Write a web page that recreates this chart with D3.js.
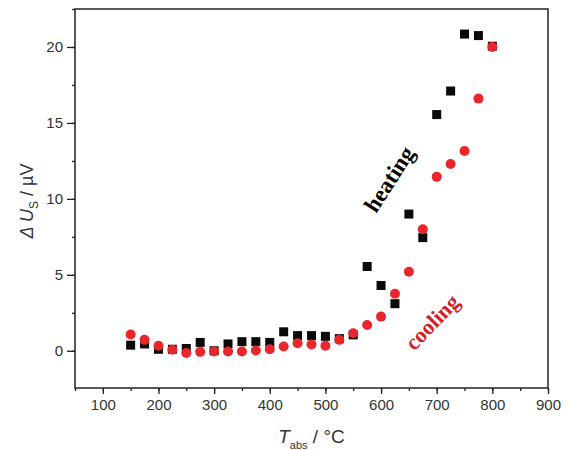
<!DOCTYPE html>
<html>
<head>
<meta charset="utf-8">
<script src="https://cdn.jsdelivr.net/npm/d3@7"></script>
<style>
  body { margin: 0; background: #fff; }
  svg { display: block; }
  .tick text { font-family: "Liberation Sans", Arial, sans-serif; }
</style>
</head>
<body>
<svg class="chart"></svg>
<script>
// DATA /////////////////////////////////////////
const temps = [150, 175, 200, 225, 250, 275, 300, 325, 350, 375, 400, 425, 450, 475,
  500, 525, 550, 575, 600, 625, 650, 675, 700, 725, 750, 775, 800];
const heating = [0.37, 0.45, 0.1, 0.1, 0.15, 0.55, 0.0, 0.45, 0.6, 0.6, 0.55, 1.25, 1.0, 1.0,
  0.95, 0.8, 1.05, 5.55, 4.3, 3.1, 9.0, 7.45, 15.55, 17.1, 20.85, 20.75, 20.05];
const cooling = [1.07, 0.72, 0.33, 0.07, -0.15, -0.07, -0.05, -0.05, -0.05, 0.02, 0.1, 0.28, 0.5, 0.42,
  0.33, 0.72, 1.15, 1.7, 2.25, 3.75, 5.2, 8.0, 11.45, 12.3, 13.15, 16.6, 20.0];
const xTicks = [100, 200, 300, 400, 500, 600, 700, 800, 900];
const yTicks = [0, 5, 10, 15, 20];

// DEFINITIONS /////////////////////////////////
const margin = { top: 9, right: 20, bottom: 62, left: 75 };
const width = 568 - margin.left - margin.right;
const height = 450 - margin.top - margin.bottom;
const ink = "#222";
const red = "#e8262b";

const svg = d3.select(".chart").attr("width", 568).attr("height", 450);
const chart = svg.append("g").attr("transform", `translate(${margin.left}, ${margin.top})`);

const x = d3.scaleLinear().domain([50, 900]).range([0, width]);
const y = d3.scaleLinear().domain([-2.45, 22.5]).range([height, 0]);

// AXES ////////////////////////////////////////
const styleAxis = (g) => {
  g.select(".domain").remove();
  g.selectAll("line").attr("stroke", ink).attr("stroke-width", 1.3);
  g.selectAll("text").attr("fill", "#333").attr("font-size", 15);
};

// minor ticks first
chart.append("g")
  .attr("transform", `translate(0, ${height})`)
  .call(d3.axisBottom(x).tickValues(d3.range(50, 901, 50)).tickSize(3).tickFormat(""))
  .call(styleAxis);
chart.append("g")
  .call(d3.axisLeft(y).tickValues(d3.range(-2.5, 22.6, 2.5).filter((v) => v >= -2.45)).tickSize(3).tickFormat(""))
  .call(styleAxis);

chart.append("g")
  .attr("transform", `translate(0, ${height})`)
  .call(d3.axisBottom(x).tickValues(xTicks).tickSize(6).tickPadding(5))
  .call(styleAxis);
chart.append("g")
  .call(d3.axisLeft(y).tickValues(yTicks).tickSize(8).tickPadding(4))
  .call(styleAxis);

// frame
chart.append("rect")
  .attr("width", width)
  .attr("height", height)
  .attr("fill", "none")
  .attr("stroke", ink)
  .attr("stroke-width", 1.5);

// MARKS ///////////////////////////////////////
const sq = 9;
chart.selectAll(".heat")
  .data(temps.map((t, i) => ({ t, v: heating[i] })))
  .enter()
  .append("rect")
  .attr("class", "heat")
  .attr("x", (d) => x(d.t) - sq / 2)
  .attr("y", (d) => y(d.v) - sq / 2)
  .attr("width", sq)
  .attr("height", sq)
  .attr("fill", "#0a0a0a");

chart.selectAll(".cool")
  .data(temps.map((t, i) => ({ t, v: cooling[i] })))
  .enter()
  .append("circle")
  .attr("class", "cool")
  .attr("cx", (d) => x(d.t))
  .attr("cy", (d) => y(d.v))
  .attr("r", 5)
  .attr("fill", red);

// LABELS //////////////////////////////////////
const serif = "'Liberation Serif', 'Times New Roman', serif";
chart.append("text")
  .attr("transform", `translate(${389 - margin.left}, ${179 - margin.top}) rotate(-57)`)
  .attr("text-anchor", "middle")
  .attr("dy", "0.35em")
  .attr("font-family", serif)
  .attr("font-weight", "bold")
  .attr("font-size", 23)
  .attr("fill", "#000")
  .text("heating");

chart.append("text")
  .attr("transform", `translate(${432 - margin.left}, ${322 - margin.top}) rotate(-46)`)
  .attr("text-anchor", "middle")
  .attr("dy", "0.35em")
  .attr("font-family", serif)
  .attr("font-weight", "bold")
  .attr("font-size", 22)
  .attr("fill", "#d41f27")
  .text("cooling");

const sans = "'Liberation Sans', Arial, sans-serif";
const yTitle = svg.append("text")
  .attr("transform", `translate(33, 201) rotate(-90)`)
  .attr("text-anchor", "middle")
  .attr("font-family", sans)
  .attr("font-size", 18)
  .attr("fill", "#333");
yTitle.append("tspan").attr("font-style", "italic").text("\u0394 U");
yTitle.append("tspan").attr("font-size", 12).attr("dy", 5).text("S");
yTitle.append("tspan").attr("dy", -5).text(" / \u00b5V");

const xTitle = svg.append("text")
  .attr("x", margin.left + width / 2)
  .attr("y", 443)
  .attr("text-anchor", "middle")
  .attr("font-family", sans)
  .attr("font-size", 19)
  .attr("fill", "#333");
xTitle.append("tspan").attr("font-style", "italic").text("T");
xTitle.append("tspan").attr("font-size", 11).attr("dy", 6).text("abs");
xTitle.append("tspan").attr("dy", -6).text(" / \u00b0C");
</script>
</body>
</html>
